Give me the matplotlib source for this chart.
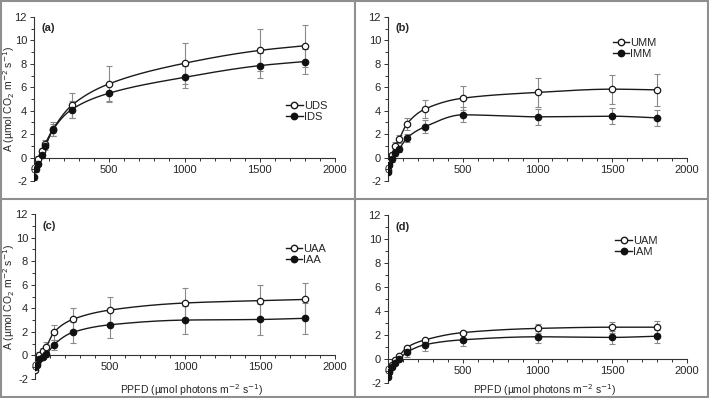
import numpy as np
import matplotlib
matplotlib.use('Agg')
import matplotlib.pyplot as plt
from matplotlib.lines import Line2D
from matplotlib.ticker import MultipleLocator

plt.rcParams['font.family'] = ['Liberation Sans', 'DejaVu Sans']
plt.rcParams['axes.unicode_minus'] = False

W, H = 709, 398

ppfd = [0, 10, 25, 50, 75, 125, 250, 500, 1000, 1500, 1800]

# panel (a)
uds = [-1.0, -0.7, -0.1, 0.55, 1.2, 2.4, 4.45, 6.3, 8.05, 9.15, 9.55]
uds_err = [0.2, 0.2, 0.2, 0.3, 0.3, 0.6, 1.1, 1.5, 1.75, 1.8, 1.8]
ids = [-1.7, -1.0, -0.55, 0.25, 0.95, 2.35, 4.1, 5.5, 6.85, 7.85, 8.2]
ids_err = [0.2, 0.2, 0.2, 0.2, 0.3, 0.55, 0.75, 0.75, 0.95, 1.05, 1.05]
# panel (b)
umm = [-1.05, -0.4, 0.23, 1.0, 1.57, 2.85, 4.16, 5.07, 5.56, 5.84, 5.78]
umm_err = [0.2, 0.2, 0.2, 0.3, 0.35, 0.5, 0.77, 1.05, 1.22, 1.23, 1.37]
imm = [-1.2, -0.6, -0.14, 0.37, 0.74, 1.65, 2.65, 3.65, 3.48, 3.53, 3.39]
imm_err = [0.2, 0.2, 0.2, 0.2, 0.25, 0.35, 0.55, 0.65, 0.7, 0.7, 0.7]
# panel (c)
uaa = [-1.2, -0.6, 0.05, 0.4, 0.75, 1.95, 3.05, 3.85, 4.45, 4.65, 4.75]
uaa_err = [0.2, 0.2, 0.2, 0.25, 0.35, 0.65, 0.95, 1.15, 1.3, 1.35, 1.4]
iaa = [-1.0, -0.8, -0.3, -0.1, 0.1, 0.9, 1.95, 2.6, 3.0, 3.05, 3.15]
iaa_err = [0.2, 0.2, 0.2, 0.2, 0.2, 0.45, 0.9, 1.1, 1.2, 1.3, 1.3]
# panel (d)
uam = [-1.2, -0.9, -0.5, -0.1, 0.25, 0.95, 1.6, 2.2, 2.55, 2.65, 2.65]
uam_err = [0.1, 0.1, 0.1, 0.1, 0.1, 0.1, 0.1, 0.15, 0.35, 0.45, 0.55]
iam = [-1.5, -1.1, -0.7, -0.3, 0.0, 0.55, 1.2, 1.6, 1.85, 1.8, 1.9]
iam_err = [0.15, 0.15, 0.15, 0.2, 0.2, 0.35, 0.5, 0.55, 0.5, 0.55, 0.55]

xticks = [0, 500, 1000, 1500, 2000]
ylab = 'A (µmol CO$_2$ m$^{-2}$ s$^{-1}$)'
xlab = 'PPFD (µmol photons m$^{-2}$ s$^{-1}$)'


def rect(x0, x1, ytop, ybot):
    # pixel box of the plot area -> figure fraction
    return [x0 / W, 1 - ybot / H, (x1 - x0) / W, (ybot - ytop) / H]


panels = [
    ('(a)', 'UDS', uds, uds_err, 'IDS', ids, ids_err, rect(34, 335, 17, 181), (0.837, 0.49)),
    ('(b)', 'UMM', umm, umm_err, 'IMM', imm, imm_err, rect(388, 687, 17, 181), (0.751, 0.875)),
    ('(c)', 'UAA', uaa, uaa_err, 'IAA', iaa, iaa_err, rect(35, 335, 214, 379), (0.835, 0.82)),
    ('(d)', 'UAM', uam, uam_err, 'IAM', iam, iam_err, rect(388, 687, 215, 383), (0.76, 0.877)),
]


def pchip(x, y, xs):
    # monotone cubic curve through the points, like the smoothed line in the original
    x = np.asarray(x, float); y = np.asarray(y, float)
    h = np.diff(x); d = np.diff(y) / h
    m = np.zeros_like(y)
    for k in range(1, len(x) - 1):
        if d[k - 1] * d[k] > 0:
            w1 = 2 * h[k] + h[k - 1]; w2 = h[k] + 2 * h[k - 1]
            m[k] = (w1 + w2) / (w1 / d[k - 1] + w2 / d[k])
    m[0] = d[0]; m[-1] = d[-1]
    out = np.empty_like(xs)
    for i, t in enumerate(xs):
        k = min(np.searchsorted(x, t, side='right') - 1, len(x) - 2)
        s = (t - x[k]) / h[k]
        h00 = 2*s**3 - 3*s**2 + 1; h10 = s**3 - 2*s**2 + s
        h01 = -2*s**3 + 3*s**2; h11 = s**3 - s**2
        out[i] = h00*y[k] + h10*h[k]*m[k] + h01*y[k+1] + h11*h[k]*m[k+1]
    return out


fig = plt.figure(figsize=(W / 100, H / 100), dpi=100)
txt = '#262626'
xs = np.linspace(0, 1800, 600)

for i, (tag, n1, y1, e1, n2, y2, e2, box, legpos) in enumerate(panels):
    ax = fig.add_axes(box)
    for y, e in [(y1, e1), (y2, e2)]:
        ax.errorbar(ppfd, y, yerr=e, fmt='none', ecolor='#8a8a8a', elinewidth=0.8, capsize=2, capthick=0.8, zorder=2)
    ax.plot(xs, pchip(ppfd, y1, xs), color='#1a1a1a', lw=1.0, zorder=3)
    ax.plot(xs, pchip(ppfd, y2, xs), color='#1a1a1a', lw=1.0, zorder=3)
    ax.plot(ppfd, y1, 'o', ms=4.6, mfc='white', mec='#1a1a1a', mew=0.9, zorder=4)
    ax.plot(ppfd, y2, 'o', ms=4.6, mfc='#111111', mec='#111111', mew=0.9, zorder=5)

    ax.set_xlim(0, 2000)
    ax.set_ylim(-2, 12)
    ax.spines['top'].set_visible(False)
    ax.spines['right'].set_visible(False)
    ax.spines['bottom'].set_position(('data', 0))
    for s in ('left', 'bottom'):
        ax.spines[s].set_color('#333333')
        ax.spines[s].set_linewidth(0.8)
    ax.set_xticks(xticks)
    ax.xaxis.set_minor_locator(MultipleLocator(100))
    ax.yaxis.set_major_locator(MultipleLocator(2))
    ax.yaxis.set_minor_locator(MultipleLocator(1))
    ax.tick_params(which='both', direction='out', color='#333333', width=0.7, labelsize=8, labelcolor=txt, pad=2)
    ax.tick_params(which='major', length=3)
    ax.tick_params(which='minor', length=2.5)
    ax.patch.set_alpha(0)

    ax.text(0.025, 0.93, tag, transform=ax.transAxes, fontsize=8, fontweight='bold', color=txt, va='center')
    handles = [Line2D([], [], color='#1a1a1a', lw=1.0, marker='o', ms=4.6, mfc='white', mec='#1a1a1a'),
               Line2D([], [], color='#1a1a1a', lw=1.0, marker='o', ms=4.6, mfc='#111111', mec='#111111')]
    leg = ax.legend(handles, [n1, n2], loc='upper left', bbox_to_anchor=legpos, frameon=False,
                    fontsize=8, handlelength=1.5, handletextpad=0.1, labelspacing=0.15,
                    borderpad=0, borderaxespad=0)
    for t in leg.get_texts():
        t.set_color(txt)

    if i % 2 == 0:
        yc = 1 - (box[1] + box[3] / 2)
        fig.text(9.5 / W, 1 - yc, ylab, rotation=90, ha='center', va='center', fontsize=7.5, color=txt)
    if i >= 2:
        xc = box[0] + box[2] / 2 + 7 / W
        fig.text(xc, 1 - 393.5 / H, xlab, ha='center', va='baseline', fontsize=7.5, color=txt)

# panel frames
gray = '#8f8f8f'
fig.add_artist(plt.Rectangle((0.002, 0.003), 0.996, 0.994, transform=fig.transFigure, fill=False, ec=gray, lw=1.5))
fig.add_artist(Line2D([355 / W, 355 / W], [0, 1], transform=fig.transFigure, color=gray, lw=1.5))
fig.add_artist(Line2D([0, 1], [1 - 199 / H, 1 - 199 / H], transform=fig.transFigure, color=gray, lw=1.5))

fig.savefig('out.png', dpi=100)
